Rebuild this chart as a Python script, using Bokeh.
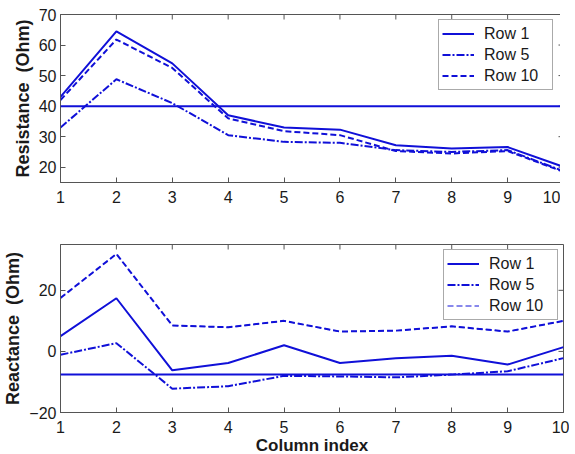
from bokeh.plotting import figure
from bokeh.models import Range1d, Span, Legend, LegendItem, FixedTicker
from bokeh.layouts import column
from bokeh.embed import file_html
from bokeh.resources import INLINE

# ---- data ----
col_index = [1, 2, 3, 4, 5, 6, 7, 8, 9, 10]
series_names = ["Row 1", "Row 5", "Row 10"]

res_row1 = [43.0, 64.5, 54.0, 37.0, 33.0, 32.3, 27.2, 26.1, 26.6, 20.1]
res_row5 = [33.0, 48.8, 41.0, 30.5, 28.3, 28.0, 25.6, 25.0, 25.6, 18.7]
res_row10 = [42.0, 61.8, 52.5, 36.0, 31.8, 30.5, 25.3, 24.5, 25.3, 18.5]
res_ref = 40.0

rea_row1 = [5.0, 17.4, -6.2, -3.8, 2.0, -3.8, -2.2, -1.4, -4.3, 1.4]
rea_row5 = [-1.1, 2.7, -12.2, -11.4, -8.0, -8.2, -8.5, -7.6, -6.5, -2.2]
rea_row10 = [17.5, 31.9, 8.5, 7.9, 10.0, 6.5, 6.8, 8.2, 6.5, 10.0]
rea_ref = -7.6

res_ticks = [20, 30, 40, 50, 60, 70]
rea_ticks = [-20, 0, 20]

BLUE = "#1010d8"
AXC = "#555555"
FONT = "Liberation Sans"
dashes = ["solid", "8 2 2 2", "6 3"]
FW, FH, TICK = 503, 168, 5


def make_fig(yr, yticks, ylabel, xlabel, border_top, border_bottom):
    xr = (col_index[0], col_index[-1])
    p = figure(frame_width=FW, frame_height=FH,
               x_range=Range1d(*xr), y_range=Range1d(*yr),
               output_backend="svg", toolbar_location=None,
               min_border_left=50, min_border_right=6,
               min_border_top=border_top, min_border_bottom=border_bottom,
               x_axis_label=xlabel, y_axis_label=ylabel)
    p.grid.visible = False
    p.outline_line_color = AXC
    p.outline_line_width = 1
    p.xaxis.ticker = FixedTicker(ticks=col_index)
    p.yaxis.ticker = FixedTicker(ticks=yticks)
    for ax in p.xaxis + p.yaxis:
        ax.major_tick_in = TICK
        ax.major_tick_out = 0
        ax.minor_tick_line_color = None
        ax.axis_line_color = AXC
        ax.major_tick_line_color = AXC
        ax.major_label_text_font = FONT
        ax.major_label_text_font_size = "16px"
        ax.major_label_text_color = "#1a1a1a"
        ax.axis_label_text_font = FONT
        ax.axis_label_text_font_style = "bold"
        ax.axis_label_text_color = "#1a1a1a"
    p.xaxis.axis_label_text_font_size = "17px"
    p.yaxis.axis_label_text_font_size = "18px"
    p.xaxis.major_label_standoff = 8
    p.xaxis.axis_label_standoff = 0
    p.yaxis.major_label_standoff = 4
    p.yaxis.axis_label_standoff = 3
    # mirrored inward ticks on the top and right edges
    dy = TICK * (yr[1] - yr[0]) / FH
    dx = TICK * (xr[1] - xr[0]) / FW
    p.segment(x0=col_index, y0=[yr[1]] * len(col_index),
              x1=col_index, y1=[yr[1] - dy] * len(col_index),
              line_color=AXC, line_width=1)
    p.segment(x0=[xr[1]] * len(yticks), y0=yticks,
              x1=[xr[1] - dx] * len(yticks), y1=yticks,
              line_color=AXC, line_width=1)
    return p


def add_lines(p, rows, ref, legend_widths):
    items = []
    for name, ys, dash, lw in zip(series_names, rows, dashes, legend_widths):
        proxy = None
        if lw != 2:
            # thin copy (hidden under the thick line) that sets the legend glyph
            proxy = p.line(col_index, ys, line_color=BLUE, line_width=lw, line_dash=dash)
        r = p.line(col_index, ys, line_color=BLUE, line_width=2, line_dash=dash)
        items.append(LegendItem(label=name, renderers=[proxy if proxy is not None else r]))
    p.add_layout(Span(location=ref, dimension="width", line_color=BLUE, line_width=2))
    leg = Legend(items=items, location="top_right", margin=5, padding=3, spacing=0,
                 label_height=21, glyph_height=21, glyph_width=32, label_standoff=10,
                 label_width=65,
                 label_text_font=FONT, label_text_font_size="16px",
                 label_text_color="#1a1a1a",
                 border_line_color=AXC, border_line_width=1,
                 background_fill_alpha=1.0)
    p.add_layout(leg, "center")


p1 = make_fig((15, 70), res_ticks, "Resistance\u00a0\u00a0(Ohm)", None, 14, 41)
add_lines(p1, [res_row1, res_row5, res_row10], res_ref, [2, 2, 2])

p2 = make_fig((-20, 35), rea_ticks, "Reactance\u00a0\u00a0(Ohm)", "Column index", 21, 38)
add_lines(p2, [rea_row1, rea_row5, rea_row10], rea_ref, [2, 2, 1])

layout = column(p1, p2, spacing=0)
open("out.html", "w").write(file_html(layout, INLINE))
